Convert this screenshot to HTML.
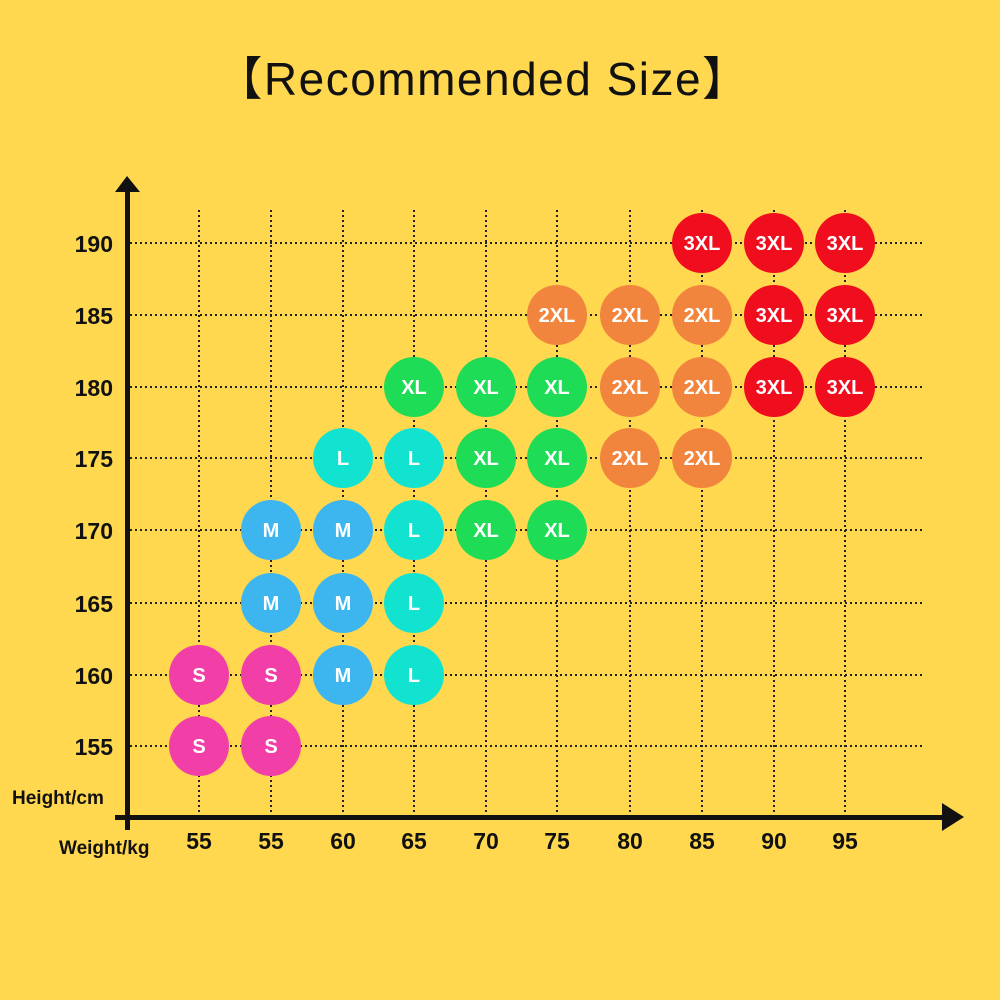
<!DOCTYPE html><html><head><style>body{margin:0;background:#FFD84F}svg{display:block}</style></head><body>
<svg width="1000" height="1000" xmlns="http://www.w3.org/2000/svg" font-family="'Liberation Sans','Noto Sans CJK SC',sans-serif">
<rect width="1000" height="1000" fill="#FFD84F"/>
<text x="483" y="95" font-size="46" letter-spacing="1.5" text-anchor="middle" fill="#111">【Recommended Size】</text>
<g stroke="#222" stroke-width="2" stroke-dasharray="2,3">
<line x1="199" y1="210" x2="199" y2="815"/><line x1="271" y1="210" x2="271" y2="815"/><line x1="343" y1="210" x2="343" y2="815"/><line x1="414" y1="210" x2="414" y2="815"/><line x1="486" y1="210" x2="486" y2="815"/><line x1="557" y1="210" x2="557" y2="815"/><line x1="630" y1="210" x2="630" y2="815"/><line x1="702" y1="210" x2="702" y2="815"/><line x1="774" y1="210" x2="774" y2="815"/><line x1="845" y1="210" x2="845" y2="815"/>
<line x1="130" y1="243" x2="923" y2="243"/><line x1="130" y1="315" x2="923" y2="315"/><line x1="130" y1="387" x2="923" y2="387"/><line x1="130" y1="458" x2="923" y2="458"/><line x1="130" y1="530" x2="923" y2="530"/><line x1="130" y1="603" x2="923" y2="603"/><line x1="130" y1="675" x2="923" y2="675"/><line x1="130" y1="746" x2="923" y2="746"/>
</g>
<rect x="125" y="190" width="5" height="640" fill="#111"/>
<polygon points="127,176 115,192 140,192" fill="#111"/>
<rect x="115" y="815" width="830" height="5" fill="#111"/>
<polygon points="942,803 964,817 942,831" fill="#111"/>
<g font-size="23" font-weight="bold" fill="#111" text-anchor="end">
<text x="113" y="252">190</text><text x="113" y="324">185</text><text x="113" y="396">180</text><text x="113" y="467">175</text><text x="113" y="539">170</text><text x="113" y="612">165</text><text x="113" y="684">160</text><text x="113" y="755">155</text>
</g>
<g font-size="23" font-weight="bold" fill="#111" text-anchor="middle">
<text x="199" y="849">55</text><text x="271" y="849">55</text><text x="343" y="849">60</text><text x="414" y="849">65</text><text x="486" y="849">70</text><text x="557" y="849">75</text><text x="630" y="849">80</text><text x="702" y="849">85</text><text x="774" y="849">90</text><text x="845" y="849">95</text>
</g>
<text x="12" y="804" font-size="19" font-weight="600" fill="#111">Height/cm</text>
<text x="59" y="854" font-size="19" font-weight="600" fill="#111">Weight/kg</text>
<g font-size="20" font-weight="bold" fill="#fff" text-anchor="middle">
<g fill="#F23FA8"><circle cx="199" cy="746" r="30"/><circle cx="271" cy="746" r="30"/><circle cx="199" cy="675" r="30"/><circle cx="271" cy="675" r="30"/></g>
<g fill="#3DB6F0"><circle cx="343" cy="675" r="30"/><circle cx="271" cy="603" r="30"/><circle cx="343" cy="603" r="30"/><circle cx="271" cy="530" r="30"/><circle cx="343" cy="530" r="30"/></g>
<g fill="#12E3D0"><circle cx="414" cy="675" r="30"/><circle cx="414" cy="603" r="30"/><circle cx="414" cy="530" r="30"/><circle cx="343" cy="458" r="30"/><circle cx="414" cy="458" r="30"/></g>
<g fill="#1EDC55"><circle cx="486" cy="530" r="30"/><circle cx="557" cy="530" r="30"/><circle cx="486" cy="458" r="30"/><circle cx="557" cy="458" r="30"/><circle cx="414" cy="387" r="30"/><circle cx="486" cy="387" r="30"/><circle cx="557" cy="387" r="30"/></g>
<g fill="#F2853D"><circle cx="630" cy="458" r="30"/><circle cx="702" cy="458" r="30"/><circle cx="630" cy="387" r="30"/><circle cx="702" cy="387" r="30"/><circle cx="557" cy="315" r="30"/><circle cx="630" cy="315" r="30"/><circle cx="702" cy="315" r="30"/></g>
<g fill="#F00D1E"><circle cx="774" cy="387" r="30"/><circle cx="845" cy="387" r="30"/><circle cx="774" cy="315" r="30"/><circle cx="845" cy="315" r="30"/><circle cx="702" cy="243" r="30"/><circle cx="774" cy="243" r="30"/><circle cx="845" cy="243" r="30"/></g>
<text x="199" y="753">S</text><text x="271" y="753">S</text><text x="199" y="682">S</text><text x="271" y="682">S</text>
<text x="343" y="682">M</text><text x="271" y="610">M</text><text x="343" y="610">M</text><text x="271" y="537">M</text><text x="343" y="537">M</text>
<text x="414" y="682">L</text><text x="414" y="610">L</text><text x="414" y="537">L</text><text x="343" y="465">L</text><text x="414" y="465">L</text>
<text x="486" y="537">XL</text><text x="557" y="537">XL</text><text x="486" y="465">XL</text><text x="557" y="465">XL</text><text x="414" y="394">XL</text><text x="486" y="394">XL</text><text x="557" y="394">XL</text>
<text x="630" y="465">2XL</text><text x="702" y="465">2XL</text><text x="630" y="394">2XL</text><text x="702" y="394">2XL</text><text x="557" y="322">2XL</text><text x="630" y="322">2XL</text><text x="702" y="322">2XL</text>
<text x="774" y="394">3XL</text><text x="845" y="394">3XL</text><text x="774" y="322">3XL</text><text x="845" y="322">3XL</text><text x="702" y="250">3XL</text><text x="774" y="250">3XL</text><text x="845" y="250">3XL</text>
</g>
</svg></body></html>
